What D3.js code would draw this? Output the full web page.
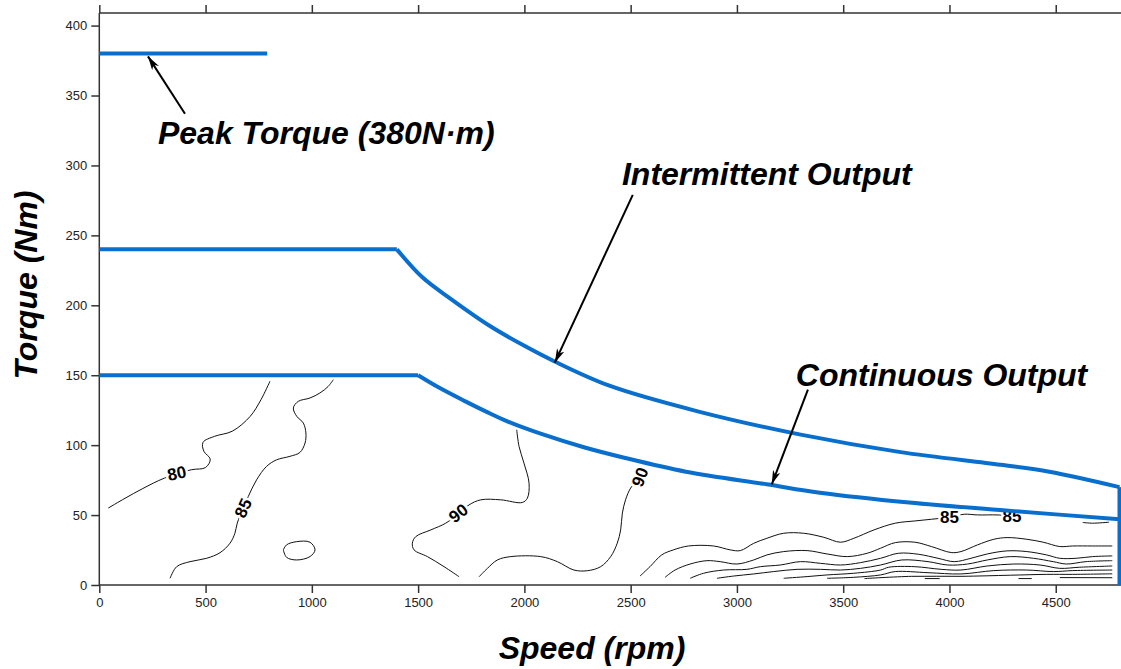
<!DOCTYPE html>
<html>
<head>
<meta charset="utf-8">
<script src="https://cdnjs.cloudflare.com/ajax/libs/d3/7.8.5/d3.min.js"></script>
<style>
  body { margin: 0; background: #fff; }
  svg { display: block; font-family: "Liberation Sans", Arial, sans-serif; }
  .axis text { font-size: 13px; fill: #222; }
  .axis path, .axis line { stroke: #333; stroke-width: 1.5; }
  .title { font-size: 32px; font-weight: bold; font-style: italic; fill: #000; }
  .contour { fill: none; stroke: #111; stroke-width: 1; }
  .clabel { font-size: 17px; font-weight: bold; fill: #000; stroke: #fff; stroke-width: 5px; paint-order: stroke; }
  .curve { fill: none; stroke: #0a6fcc; stroke-width: 4; stroke-linejoin: round; }
</style>
</head>
<body>
<svg width="1121" height="669"></svg>
<script>
// ticks
var xTicks = [0, 500, 1000, 1500, 2000, 2500, 3000, 3500, 4000, 4500];
var yTicks = [0, 50, 100, 150, 200, 250, 300, 350, 400];

// output limits (rpm, Nm)
var peakTorque = [[0, 380], [790, 380]];
var intermittent = [[0, 240], [1400, 240], [1520, 220], [1650, 205], [1840, 185], [2000, 171], [2140, 160],
    [2400, 142.5], [2820, 124], [3300, 107.5], [3770, 95], [4240, 86], [4470, 81], [4800, 70]];
var continuous = [[0, 150], [1500, 150], [1600, 141], [1720, 131.5], [1820, 124], [1920, 117], [2080, 108],
    [2280, 98.5], [2470, 91], [2760, 81], [3140, 72], [3390, 66], [3810, 59], [4290, 53], [4800, 47]];
var maxSpeedEdge = [[4800, 0], [4800, 70]];

// efficiency contours
var c80 = [[42, 55], [121, 62], [205, 69], [306, 76.4], [433, 82.4], [500, 84], [522, 90], [492, 95.6], [488, 102],
    [542, 106.3], [626, 110], [710, 120.6], [761, 132.6], [803, 145.7]];
var c85a = [[333, 4.8], [364, 13.1], [427, 16.7], [505, 19.1], [568, 23.1], [615, 29.9], [638, 37], [649, 44.2],
    [677, 55], [701, 63.3], [740, 75.2], [787, 84.8], [834, 89.5], [897, 92], [944, 94.8], [968, 101.5], [972, 108.7],
    [960, 115.8], [929, 120.6], [913, 126.6], [936, 131.3], [991, 133.7], [1038, 137.3], [1077, 142], [1101, 146.8]];
var c85loop = [[866, 25.1], [881, 28.7], [929, 31], [991, 30.6], [1015, 25.1], [991, 20.3], [929, 17.9], [881, 19.8], [866, 25.1]];
var c90a = [[1964, 111], [1975, 99], [1998, 87.2], [2022, 72.8], [2014, 62.1], [1990, 59], [1889, 60.9], [1795, 60.9],
    [1740, 57.3], [1693, 51.4], [1630, 44.2], [1560, 39.4], [1489, 34.6], [1473, 29.9], [1481, 25.1], [1544, 20.3],
    [1622, 13.1], [1693, 5.9]];
var c90b = [[1787, 5.9], [1826, 11.9], [1873, 17.9], [1936, 20.3], [2077, 20.3], [2155, 16.7], [2233, 10.7], [2296, 10.2],
    [2359, 13.1], [2406, 20.3], [2437, 29.9], [2453, 39.4], [2461, 51.4], [2476, 60.9], [2500, 69.3], [2544, 77.2]];
var c85b = [[2544, 6.4], [2591, 13.1], [2646, 21.5], [2701, 25.1], [2772, 27.9], [2890, 27.9], [2969, 25.1], [3016, 24.6],
    [3079, 29.8], [3141, 33.4], [3220, 37], [3314, 37], [3409, 34.1], [3487, 30.6], [3550, 33.4], [3645, 39.4],
    [3745, 44.2], [3837, 45.8], [3915, 47], [4000, 48.5], [4070, 50.6], [4132, 50.1], [4224, 50.1], [4294, 49.4]];
var c85tail = [[4627, 44.7], [4673, 44.2], [4751, 44.9]];
var lineB = [[2662, 5.5], [2709, 10.7], [2780, 15], [2859, 17.4], [2921, 16.7], [3000, 15], [3079, 17.9], [3141, 21.5],
    [3220, 23.9], [3330, 24.6], [3424, 22.2], [3519, 20.3], [3613, 22.7], [3676, 26.3], [3745, 30.3], [3837, 30.6],
    [3915, 27.5], [4008, 23.2], [4054, 23.9], [4132, 28.7], [4209, 32.7], [4271, 33.9], [4364, 32.7], [4441, 30.6],
    [4519, 27.5], [4580, 27.9], [4673, 27.9], [4766, 27.9]];
var lineC = [[2780, 4.8], [2843, 8.4], [2937, 10.7], [3047, 11.2], [3110, 13.1], [3204, 14.3], [3299, 16.7], [3393, 15.5],
    [3487, 14.3], [3582, 16], [3676, 19.1], [3760, 22.7], [3853, 22], [3946, 19.1], [4023, 16.7], [4101, 19.1],
    [4178, 22.2], [4271, 24.4], [4364, 23.9], [4457, 21.5], [4519, 19.1], [4596, 19.1], [4673, 20.3], [4766, 20.8]];
var lineD = [[2906, 4.8], [2984, 6.4], [3079, 7.9], [3173, 9.6], [3283, 11.2], [3393, 11.2], [3487, 10.7], [3582, 11.9],
    [3676, 14.3], [3776, 17.9], [3899, 16.7], [3992, 14.3], [4085, 15], [4178, 17.9], [4286, 20.3], [4395, 19.1],
    [4488, 16.7], [4550, 15], [4642, 16.7], [4766, 17.4]];
var lineE = [[3220, 4.8], [3330, 6], [3424, 7.2], [3550, 8.4], [3676, 10.7], [3714, 12.7], [3837, 13.1], [3961, 11.2],
    [4054, 10.7], [4178, 13.6], [4302, 15], [4426, 14.3], [4519, 11.9], [4611, 12.7], [4766, 13.6]];
var lineF = [[3424, 4.8], [3550, 5.5], [3676, 7.2], [3745, 9.6], [3899, 8.8], [4054, 7.9], [4209, 10.3], [4364, 10.7],
    [4488, 9.6], [4580, 10.3], [4766, 10.7]];
var lineG = [[3600, 4.6], [3822, 6.2], [4054, 6.2], [4286, 7], [4457, 7.6], [4580, 7.6], [4766, 8]];
var lineH1 = [[3884, 4.6], [3954, 4.6]];
var lineH2 = [[4325, 4.6], [4387, 4.6]];
var lineH3 = [[4519, 5.3], [4766, 5.2]];

var contourLabels = [
    {t: '80', x: 365, y: 80, r: -12},
    {t: '85', x: 677, y: 55, r: -65},
    {t: '90', x: 1689, y: 51.4, r: -38},
    {t: '90', x: 2544, y: 77.2, r: -70},
    {t: '85', x: 4000, y: 48.5, r: 0},
    {t: '85', x: 4294, y: 49.4, r: 0}
];

// callouts: text start, arrow tail, arrow tip (rpm, Nm)
var callouts = [
    {t: 'Peak Torque (380N\u00b7m)', tx: 276, ty: 315, from: [403, 337], to: [229, 378]},
    {t: 'Intermittent Output', tx: 2459, ty: 286, from: [2510, 279], to: [2143, 159]},
    {t: 'Continuous Output', tx: 3277, ty: 142.5, from: [3334, 139.7], to: [3164, 72]}
];

var svg = d3.select('svg');

var x = d3.scaleLinear().domain([0, 4800]).range([99.3, 1119.5]);
var y = d3.scaleLinear().domain([0, 409]).range([585, 13]);

var line = d3.line()
    .x(function(d) { return x(d[0]); })
    .y(function(d) { return y(d[1]); });
var smooth = d3.line()
    .x(function(d) { return x(d[0]); })
    .y(function(d) { return y(d[1]); })
    .curve(d3.curveCatmullRom.alpha(0.5));

// axes
svg.append('g').attr('class', 'axis')
    .attr('transform', 'translate(' + x(0) + ',0)')
    .call(d3.axisLeft(y).tickValues(yTicks).tickSize(8).tickSizeOuter(0).tickPadding(4).tickFormat(d3.format('d')));
svg.append('g').attr('class', 'axis')
    .attr('transform', 'translate(0,' + y(0) + ')')
    .call(d3.axisBottom(x).tickValues(xTicks).tickSize(8).tickSizeOuter(0).tickPadding(5).tickFormat(d3.format('d')));
svg.append('g').attr('class', 'axis')
    .attr('transform', 'translate(0,' + y(409) + ')')
    .call(d3.axisTop(x).tickValues(xTicks).tickSize(8).tickSizeOuter(0).tickFormat(''));
svg.selectAll('.axis .domain').remove();
svg.append('line').attr('x1', x(0)).attr('x2', 1121).attr('y1', y(0)).attr('y2', y(0)).attr('stroke', '#333').attr('stroke-width', 1.5);
svg.append('line').attr('x1', x(0)).attr('x2', 1121).attr('y1', y(409)).attr('y2', y(409)).attr('stroke', '#333').attr('stroke-width', 1.5);
svg.append('line').attr('x1', x(0)).attr('x2', x(0)).attr('y1', y(0)).attr('y2', y(409)).attr('stroke', '#333').attr('stroke-width', 1.5);

// axis titles
svg.append('text').attr('class', 'title')
    .attr('x', 592).attr('y', 659).attr('text-anchor', 'middle')
    .text('Speed (rpm)');
svg.append('text').attr('class', 'title')
    .attr('transform', 'translate(37,285)rotate(-90)').attr('text-anchor', 'middle')
    .text('Torque (Nm)');

// contours
var contours = [c80, c85a, c85loop, c90a, c90b, c85b, c85tail, lineB, lineC, lineD, lineE, lineF, lineG, lineH1, lineH2, lineH3];
svg.append('g').selectAll('path').data(contours).enter()
    .append('path').attr('class', 'contour').attr('d', smooth);

svg.append('g').selectAll('text').data(contourLabels).enter()
    .append('text').attr('class', 'clabel')
    .attr('text-anchor', 'middle').attr('dy', '0.35em')
    .attr('transform', function(d) { return 'translate(' + x(d.x) + ',' + y(d.y) + ')rotate(' + d.r + ')'; })
    .text(function(d) { return d.t; });

// output limit curves: straight constant-torque part, then the bend
svg.append('path').attr('class', 'curve').attr('d', line(peakTorque));
svg.append('path').attr('class', 'curve').attr('d', line(maxSpeedEdge));
[intermittent, continuous].forEach(function(d) {
    svg.append('path').attr('class', 'curve').attr('d', line(d.slice(0, 2)));
    svg.append('path').attr('class', 'curve').attr('d', smooth(d.slice(1)));
});

// callouts
svg.append('defs').append('marker')
    .attr('id', 'arrow').attr('viewBox', '0 0 14 8').attr('refX', 14).attr('refY', 4)
    .attr('markerWidth', 14).attr('markerHeight', 8).attr('markerUnits', 'userSpaceOnUse')
    .attr('orient', 'auto')
    .append('path').attr('d', 'M0,0 L14,4 L0,8 L4,4 Z').attr('fill', '#000');

var co = svg.append('g').selectAll('g').data(callouts).enter().append('g');
co.append('line')
    .attr('x1', function(d) { return x(d.from[0]); }).attr('y1', function(d) { return y(d.from[1]); })
    .attr('x2', function(d) { return x(d.to[0]); }).attr('y2', function(d) { return y(d.to[1]); })
    .attr('stroke', '#000').attr('stroke-width', 2).attr('marker-end', 'url(#arrow)');
co.append('text').attr('class', 'title')
    .attr('x', function(d) { return x(d.tx); }).attr('y', function(d) { return y(d.ty); })
    .text(function(d) { return d.t; });
</script>
</body>
</html>
